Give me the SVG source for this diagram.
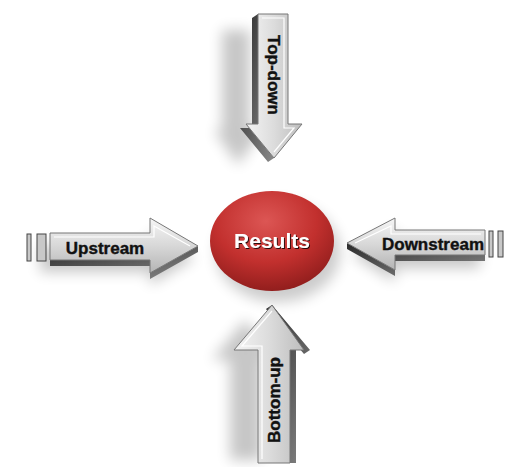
<svg xmlns="http://www.w3.org/2000/svg" width="509" height="467" viewBox="0 0 509 467">
<defs>
<linearGradient id="faceV" x1="0" y1="0" x2="1" y2="0">
<stop offset="0" stop-color="#f4f4f4"/><stop offset="0.5" stop-color="#dcdcdc"/><stop offset="1" stop-color="#bdbdbd"/>
</linearGradient>
<linearGradient id="faceH" x1="0" y1="0" x2="0" y2="1">
<stop offset="0" stop-color="#f6f6f6"/><stop offset="0.5" stop-color="#d8d8d8"/><stop offset="1" stop-color="#b4b4b4"/>
</linearGradient>
<linearGradient id="side" x1="0" y1="0" x2="1" y2="1">
<stop offset="0" stop-color="#2a2a2a"/><stop offset="1" stop-color="#8a8a8a"/>
</linearGradient>
<radialGradient id="ball" cx="0.45" cy="0.3" r="0.75">
<stop offset="0" stop-color="#dc5654"/><stop offset="0.55" stop-color="#c2302e"/><stop offset="1" stop-color="#8a1b1a"/>
</radialGradient>
<filter id="blur" x="-50%" y="-50%" width="200%" height="200%"><feGaussianBlur stdDeviation="7"/></filter>
<filter id="ts" x="-20%" y="-20%" width="140%" height="140%"><feDropShadow dx="1" dy="1" stdDeviation="0.6" flood-color="#000" flood-opacity="0.8"/></filter>
</defs>
<style>
.lbl{font-family:"Liberation Sans",Arial,sans-serif;font-weight:bold;font-size:17px;fill:#111;stroke:#111;stroke-width:0.4;text-anchor:middle;dominant-baseline:central}
.side{fill:url(#side)}
.edge{stroke:#777;stroke-width:1;stroke-linejoin:miter}
.shadow{fill:#000;opacity:0.22;filter:url(#blur)}
.bar{fill:#c8c8c8;stroke:#444;stroke-width:1}
</style>
<rect width="509" height="467" fill="#fff"/>
<g id="connectors"></g>
<g id="top-down">
<path class="shadow" d="M222,30 L250,30 L250,130 L262,130 L238,165 L214,130 L222,130 Z"/>
<path class="side" d="M252,18 L258,14 L258,124 L246,124 L274,158 L268,162 L240,128 L252,128 Z"/>
<path class="edge" fill="url(#faceV)" d="M258,14 L288,14 L288,124 L302,124 L274,158 L246,124 L258,124 Z"/>
<path d="M262,18 L284,18 L284,128 L294,128 L274,152" fill="none" stroke="#fff" stroke-width="1.2"/>
<text class="lbl" transform="translate(273,75) rotate(90)">Top-down</text>
</g>
<g id="upstream">
<path class="shadow" d="M40,245 L150,245 L150,232 L195,258 L150,285 L150,272 L40,272 Z"/>
<rect class="bar" x="27" y="234" width="4" height="27"/>
<rect class="bar" x="37" y="234" width="9" height="27"/>
<path class="side" d="M50,260 L150,260 L150,273 L198,246 L198,252 L150,279 L150,266 L50,266 Z"/>
<path class="edge" fill="url(#faceH)" d="M50,233 L150,233 L150,218 L198,246 L150,273 L150,260 L50,260 Z"/>
<path d="M54,237 L154,237 L154,226 L190,246" fill="none" stroke="#fff" stroke-width="1.2"/>
<text class="lbl" x="105" y="248">Upstream</text>
</g>
<g id="downstream">
<path class="shadow" d="M480,240 L395,240 L395,228 L352,255 L395,282 L395,268 L480,268 Z"/>
<rect class="bar" x="489" y="231" width="4" height="26"/>
<rect class="bar" x="498" y="231" width="5" height="26"/>
<path class="side" d="M347,243 L395,270 L395,276 L347,249 Z M395,255 L485,255 L485,261 L395,261 Z"/>
<path class="edge" fill="url(#faceH)" d="M485,230 L395,230 L395,218 L347,243 L395,270 L395,255 L485,255 Z"/>
<path d="M481,234 L391,234 L391,226 L355,243" fill="none" stroke="#fff" stroke-width="1.2"/>
<text class="lbl" x="433" y="244">Downstream</text>
</g>
<g id="bottom-up">
<path class="shadow" d="M230,460 L230,360 L212,360 L245,320 L278,360 L262,360 L262,460 Z"/>
<path class="side" d="M272,305 L310,350 L304,354 L266,309 Z M290,350 L296,350 L296,463 L290,463 Z"/>
<path class="edge" fill="url(#faceV)" d="M258,463 L258,350 L234,350 L272,305 L304,350 L290,350 L290,463 Z"/>
<path d="M262,459 L262,346 L242,346 L272,311" fill="none" stroke="#fff" stroke-width="1.2"/>
<text class="lbl" transform="translate(274,400) rotate(-90)">Bottom-up</text>
</g>
<g id="results">
<ellipse cx="278" cy="252" rx="62" ry="50" fill="#000" opacity="0.2" filter="url(#blur)"/>
<ellipse cx="272" cy="241" rx="62" ry="50" fill="url(#ball)"/>
<text x="272" y="240" font-family="'Liberation Sans',Arial,sans-serif" font-weight="bold" font-size="21" fill="#fff" text-anchor="middle" dominant-baseline="central" filter="url(#ts)">Results</text>
</g>
</svg>
